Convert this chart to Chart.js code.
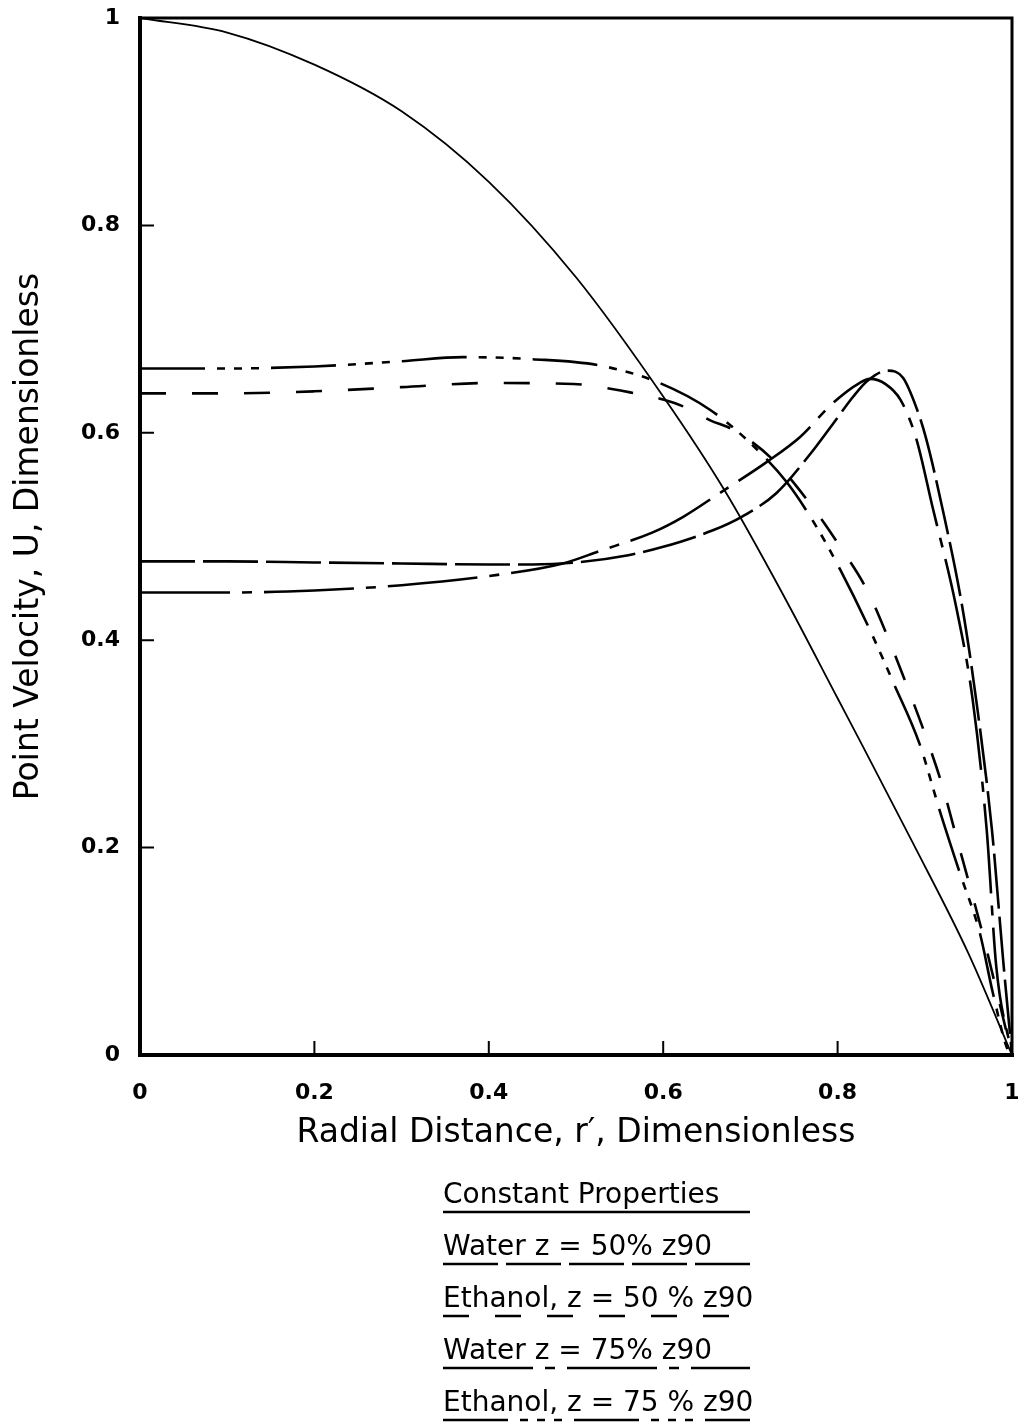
<!DOCTYPE html>
<html>
<head>
<meta charset="utf-8">
<script src="https://cdn.jsdelivr.net/npm/chart.js@4/dist/chart.umd.min.js"></script>
<style>
  html, body { margin: 0; padding: 0; background: #fff; overflow: hidden; }
  #wrap { width: 1019px; height: 1425px; position: relative; }
</style>
</head>
<body>
<div id="wrap"><canvas id="velocityChart"></canvas></div>
<script>
// radial distance r' and point velocity U
const constR   = [0, 0.1, 0.2, 0.3, 0.4, 0.5, 0.6, 0.67, 0.74, 0.8, 0.83, 0.886, 0.95, 1];
const constU   = [1.0, 0.986, 0.955, 0.91, 0.842, 0.75, 0.635, 0.545, 0.44, 0.344, 0.296, 0.205, 0.098, 0];

const water50R = [0, 0.1, 0.2, 0.3, 0.4, 0.45, 0.5, 0.56, 0.6, 0.657, 0.69, 0.73, 0.77, 0.795, 0.818, 0.834, 0.857, 0.875, 0.89, 0.901, 0.92, 0.943, 0.959, 0.977, 0.99, 1];
const water50U = [0.476, 0.476, 0.475, 0.474, 0.473, 0.473, 0.475, 0.482, 0.49, 0.506, 0.519, 0.542, 0.581, 0.609, 0.635, 0.65, 0.66, 0.653, 0.625, 0.596, 0.528, 0.432, 0.342, 0.217, 0.09, 0];

const eth50R   = [0, 0.1, 0.2, 0.3, 0.4, 0.497, 0.562, 0.6, 0.627, 0.654, 0.68, 0.726, 0.768, 0.803, 0.834, 0.858, 0.88, 0.9, 0.92, 0.935, 0.952, 0.966, 0.98, 1];
const eth50U   = [0.638, 0.638, 0.64, 0.644, 0.648, 0.647, 0.639, 0.632, 0.624, 0.612, 0.603, 0.574, 0.532, 0.49, 0.448, 0.402, 0.355, 0.31, 0.26, 0.214, 0.162, 0.118, 0.07, 0];

const water75R = [0, 0.1, 0.2, 0.3, 0.41, 0.485, 0.527, 0.588, 0.623, 0.665, 0.719, 0.757, 0.795, 0.825, 0.837, 0.855, 0.872, 0.89, 0.909, 0.936, 0.955, 0.971, 0.982, 1];
const water75U = [0.446, 0.446, 0.448, 0.453, 0.463, 0.474, 0.486, 0.504, 0.519, 0.542, 0.572, 0.596, 0.629, 0.648, 0.652, 0.647, 0.632, 0.595, 0.528, 0.432, 0.342, 0.217, 0.085, 0];

const eth75R   = [0, 0.1, 0.2, 0.3, 0.37, 0.45, 0.527, 0.596, 0.654, 0.70, 0.742, 0.776, 0.803, 0.837, 0.864, 0.894, 0.917, 0.94, 0.963, 0.978, 0.995, 1];
const eth75U   = [0.662, 0.662, 0.664, 0.669, 0.673, 0.671, 0.665, 0.648, 0.622, 0.59, 0.552, 0.509, 0.468, 0.41, 0.359, 0.30, 0.236, 0.176, 0.118, 0.06, 0.005, 0];

const seriesLabels = [
    'Constant Properties',
    'Water z = 50% z90',
    'Ethanol, z = 50 % z90',
    'Water z = 75% z90',
    'Ethanol, z = 75 % z90'
];

const xTicks = [0, 0.2, 0.4, 0.6, 0.8, 1];
const yTicks = [0, 0.2, 0.4, 0.6, 0.8, 1];

const FONT = "'DejaVu Sans', sans-serif";

function pts(rs, us) {
    return rs.map((r, i) => ({ x: r, y: us[i] }));
}

function noOverhang(s) {
    s.paddingLeft = 0;
    s.paddingRight = 0;
    s.paddingTop = 0;
    s.paddingBottom = 0;
}

// box round the plot and inward tick marks
const framePlugin = {
    id: 'frame',
    afterDatasetsDraw(chart) {
        const { ctx, chartArea: a, scales } = chart;
        ctx.save();
        ctx.strokeStyle = '#000';
        ctx.lineCap = 'square';
        ctx.lineWidth = 4;
        ctx.beginPath();
        ctx.moveTo(a.left, a.top);
        ctx.lineTo(a.left, a.bottom);
        ctx.lineTo(a.right, a.bottom);
        ctx.stroke();
        ctx.lineWidth = 3;
        ctx.beginPath();
        ctx.moveTo(a.left, a.top);
        ctx.lineTo(a.right, a.top);
        ctx.lineTo(a.right, a.bottom);
        ctx.stroke();

        ctx.lineWidth = 2;
        ctx.beginPath();
        xTicks.slice(1, -1).forEach(v => {
            const px = scales.x.getPixelForValue(v);
            ctx.moveTo(px, a.bottom);
            ctx.lineTo(px, a.bottom - 13);
        });
        yTicks.slice(1, -1).forEach(v => {
            const py = scales.y.getPixelForValue(v);
            ctx.moveTo(a.left, py);
            ctx.lineTo(a.left + 13, py);
        });
        ctx.stroke();
        ctx.restore();
    }
};

// legend below the chart: label text underlined with each line style
const underlineLegend = {
    id: 'underlineLegend',
    afterDraw(chart) {
        const { ctx } = chart;
        const x0 = 443, x1 = 750;
        ctx.save();
        ctx.fillStyle = '#000';
        ctx.strokeStyle = '#000';
        ctx.font = '28px ' + FONT;
        ctx.textBaseline = 'alphabetic';
        chart.data.datasets.forEach((ds, i) => {
            const base = 1203 + i * 52;
            ctx.fillText(ds.label, x0, base);
            ctx.lineWidth = 2.5;
            ctx.setLineDash(ds.borderDash || []);
            ctx.beginPath();
            ctx.moveTo(x0, base + 9);
            ctx.lineTo(x1, base + 9);
            ctx.stroke();
        });
        ctx.restore();
    }
};

const styles = [
    { dash: [], width: 1.8 },
    { dash: [55, 8], width: 2.6 },
    { dash: [26, 26], width: 2.6 },
    { dash: [90, 12, 10, 12], width: 2.6 },
    { dash: [65, 12, 8, 9, 8, 9, 8, 12], width: 2.6 }
];
const series = [
    pts(constR, constU),
    pts(water50R, water50U),
    pts(eth50R, eth50U),
    pts(water75R, water75U),
    pts(eth75R, eth75U)
];

const ctx = document.getElementById('velocityChart').getContext('2d');
new Chart(ctx, {
    type: 'line',
    data: {
        datasets: series.map((d, i) => ({
            label: seriesLabels[i],
            data: d,
            borderColor: '#000',
            borderWidth: styles[i].width,
            borderDash: styles[i].dash,
            pointRadius: 0,
            cubicInterpolationMode: 'monotone',
            fill: false
        }))
    },
    options: {
        responsive: true,
        maintainAspectRatio: false,
        animation: false,
        layout: { padding: { top: 18, right: 7, left: 0, bottom: 272 } },
        plugins: {
            legend: { display: false },
            tooltip: { enabled: false }
        },
        scales: {
            x: {
                type: 'linear',
                min: 0,
                max: 1,
                afterFit: s => { s.height = 98; noOverhang(s); },
                afterBuildTicks: s => { s.ticks = xTicks.map(v => ({ value: v })); },
                grid: { display: false, drawTicks: false },
                border: { display: false },
                ticks: {
                    color: '#000',
                    padding: 25,
                    maxRotation: 0,
                    font: { family: FONT, size: 22, weight: 'bold' },
                    callback: v => String(v)
                },
                title: {
                    display: true,
                    text: "Radial Distance, r\u2032, Dimensionless",
                    color: '#000',
                    font: { family: FONT, size: 33 },
                    padding: { top: 0, bottom: 0 }
                }
            },
            y: {
                type: 'linear',
                min: 0,
                max: 1,
                afterFit: s => { s.width = 140; noOverhang(s); },
                afterBuildTicks: s => { s.ticks = yTicks.map(v => ({ value: v })); },
                grid: { display: false, drawTicks: false },
                border: { display: false },
                ticks: {
                    color: '#000',
                    padding: 20,
                    font: { family: FONT, size: 22, weight: 'bold' },
                    callback: v => String(v)
                },
                title: {
                    display: true,
                    text: 'Point Velocity, U, Dimensionless',
                    color: '#000',
                    font: { family: FONT, size: 33 },
                    padding: { top: 10, bottom: 0 }
                }
            }
        }
    },
    plugins: [framePlugin, underlineLegend]
});
</script>
</body>
</html>
